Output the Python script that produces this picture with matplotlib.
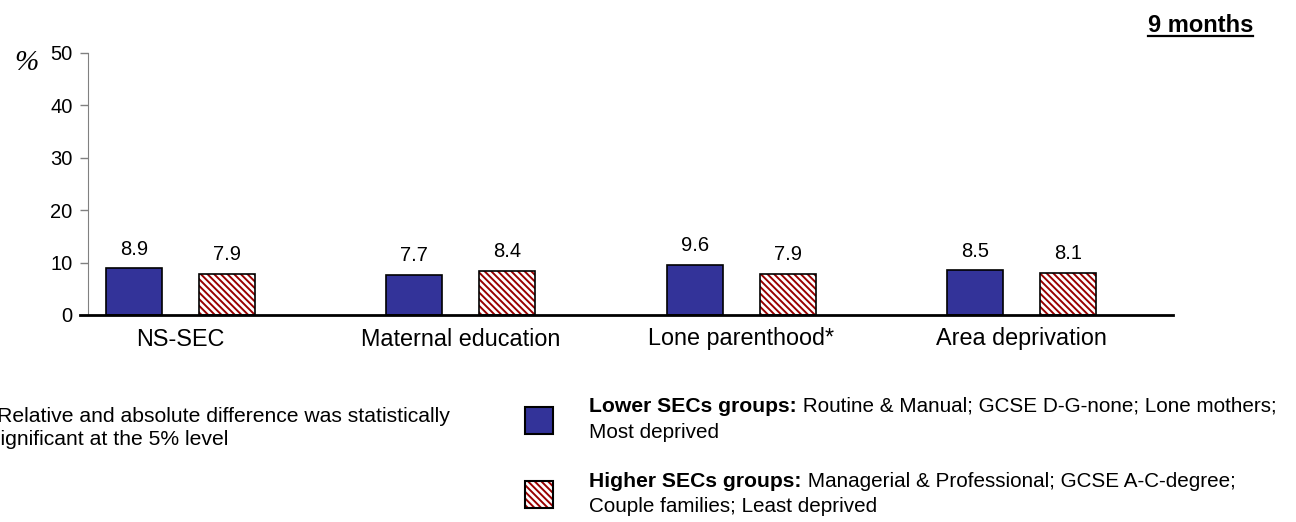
import numpy as np
import matplotlib
matplotlib.use("Agg")
import matplotlib.pyplot as plt
import matplotlib.transforms as mtrans
from matplotlib.patches import Rectangle
from matplotlib.lines import Line2D

plt.rcParams['font.family'] = ['Liberation Sans', 'DejaVu Sans']
plt.rcParams['hatch.linewidth'] = 1.4

categories = ['NS-SEC', 'Maternal education', 'Lone parenthood*', 'Area deprivation']
lower_secs = [8.9, 7.7, 9.6, 8.5]
higher_secs = [7.9, 8.4, 7.9, 8.1]
yticks = [0, 10, 20, 30, 40, 50]

blue = '#333399'
red = '#990000'
hatch = '\\' * 5
W, H = 1296, 522

fig = plt.figure(figsize=(W / 100, H / 100), dpi=100)
ax = fig.add_axes([88 / W, 1 - 315 / H, (1173 - 88) / W, (315 - 53) / H])

x = np.arange(len(categories))
w = 0.2
off = 0.166

ax.bar(x - off, lower_secs, w, color=blue, edgecolor='black', linewidth=1.2, zorder=2)
ax.bar(x + off, higher_secs, w, color='white', edgecolor=red, hatch=hatch, linewidth=0, zorder=2)
ax.bar(x + off, higher_secs, w, fill=False, edgecolor='black', linewidth=1.2, zorder=3)

for i in range(len(categories)):
    ax.annotate('%.1f' % lower_secs[i], (x[i] - off, lower_secs[i]), xytext=(0, 7),
                textcoords='offset points', ha='center', va='bottom', fontsize=14.5)
    ax.annotate('%.1f' % higher_secs[i], (x[i] + off, higher_secs[i]), xytext=(0, 7),
                textcoords='offset points', ha='center', va='bottom', fontsize=14.5)

ax.set_xlim(-0.33, 3.54)
ax.set_ylim(0, 50)
ax.set_yticks(yticks)
ax.set_xticks(x)
ax.set_xticklabels(categories, fontsize=16.8)
ax.tick_params(axis='x', length=0, pad=9)
ax.tick_params(axis='y', length=6, width=1, color='#808080', labelsize=14.5, pad=5)
for s in ['top', 'right', 'bottom']:
    ax.spines[s].set_visible(False)
ax.spines['left'].set_color('#808080')
ax.axhline(0, xmin=-8 / 1085, xmax=1, color='black', lw=2, clip_on=False, zorder=4)

# % sign
fig.text(14 / W, 1 - 70 / H, '%', fontsize=21, style='italic', family='Liberation Serif',
         ha='left', va='baseline')

# 9 months, underlined
t9 = fig.text(1148 / W, 1 - 32 / H, '9 months', fontsize=17, fontweight='bold',
              ha='left', va='baseline')

# footnote (cut at left edge as in the original)
fig.text(-17 / W, 1 - 422 / H, '* Relative and absolute difference was statistically',
         fontsize=15.2, ha='left', va='baseline')
fig.text(-10 / W, 1 - 445 / H, 'significant at the 5% level',
         fontsize=15.2, ha='left', va='baseline')

# legend
fig.add_artist(Rectangle((525 / W, 1 - 434 / H), 28 / W, 27 / H, transform=fig.transFigure,
                         facecolor=blue, edgecolor='black', linewidth=1.5))
fig.add_artist(Rectangle((525 / W, 1 - 508 / H), 28 / W, 27 / H, transform=fig.transFigure,
                         facecolor='white', edgecolor=red, hatch=hatch, linewidth=0))
fig.add_artist(Rectangle((525 / W, 1 - 508 / H), 28 / W, 27 / H, transform=fig.transFigure,
                         fill=False, edgecolor='black', linewidth=1.5))

legend_rows = [
    ('Lower SECs groups:', ' Routine & Manual; GCSE D-G-none; Lone mothers;', 'Most deprived', 412, 438),
    ('Higher SECs groups:', ' Managerial & Professional; GCSE A-C-degree;', 'Couple families; Least deprived', 487, 512),
]
fig.canvas.draw()
for bold, rest, line2, y1, y2 in legend_rows:
    tb = fig.text(589 / W, 1 - y1 / H, bold, fontsize=15.2, fontweight='bold',
                  ha='left', va='baseline')
    fig.canvas.draw()
    bb = tb.get_window_extent()
    fig.text(bb.x1 / W, 1 - y1 / H, rest, fontsize=14.9, ha='left', va='baseline')
    fig.text(589 / W, 1 - y2 / H, line2, fontsize=14.9, ha='left', va='baseline')

bb = t9.get_window_extent()
fig.add_artist(Line2D([bb.x0, bb.x1], [H - 35.5, H - 35.5], color='black', lw=1.6,
                      transform=mtrans.IdentityTransform()))

fig.savefig('out.png', dpi=100)
